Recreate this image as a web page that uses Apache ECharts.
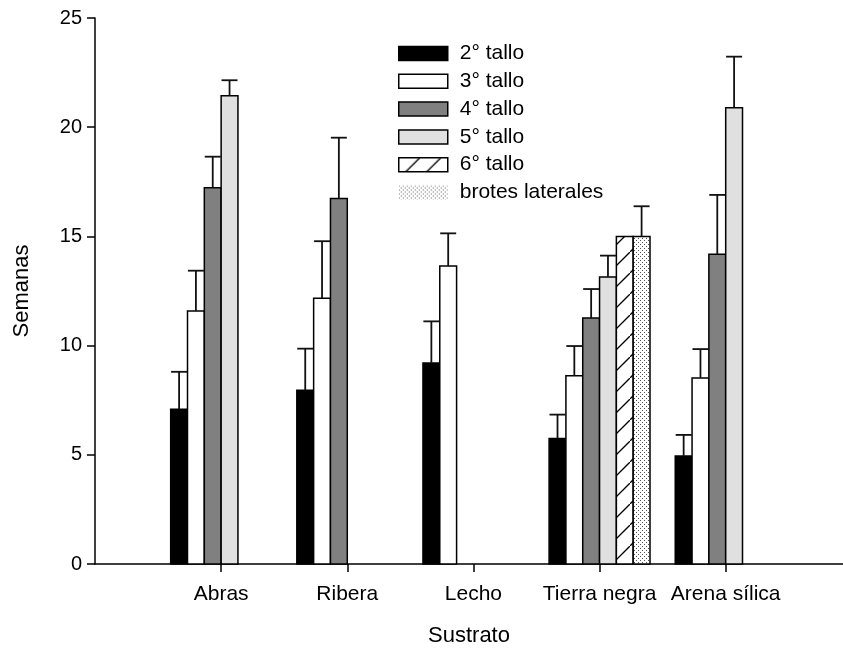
<!DOCTYPE html>
<html>
<head>
<meta charset="utf-8">
<script src="https://cdn.jsdelivr.net/npm/echarts@6/dist/echarts.min.js"></script>
<style>html,body{margin:0;padding:0;background:#fff}#c{width:843px;height:648px}</style>
</head>
<body>
<div id="c"></div>
<script>
// ---- data ----
const categories = ['Abras', 'Ribera', 'Lecho', 'Tierra negra', 'Arena sílica'];
const seriesNames = ['2° tallo', '3° tallo', '4° tallo', '5° tallo', '6° tallo', 'brotes laterales'];
const tallo2 = [7.08, 7.95, 9.20, 5.75, 4.95];
const tallo2Err = [1.72, 1.91, 1.91, 1.09, 0.96];
const tallo3 = [11.58, 12.17, 13.64, 8.62, 8.52];
const tallo3Err = [1.85, 2.61, 1.50, 1.36, 1.32];
const tallo4 = [17.23, 16.74, null, 11.26, 14.18];
const tallo4Err = [1.42, 2.78, null, 1.33, 2.72];
const tallo5 = [21.44, null, null, 13.14, 20.89];
const tallo5Err = [0.71, null, null, 0.98, 2.34];
const tallo6 = [null, null, null, 15.0, null];
const tallo6Err = [null, null, null, null, null];
const brotes = [null, null, null, 15.0, null];
const brotesErr = [null, null, null, 1.38, null];
const yTicks = [0, 5, 10, 15, 20, 25];

const seriesValues = [tallo2, tallo3, tallo4, tallo5, tallo6, brotes];
const seriesErrors = [tallo2Err, tallo3Err, tallo4Err, tallo5Err, tallo6Err, brotesErr];

// ---- patterns ----
function hatchPattern() {
  const c = document.createElement('canvas');
  c.width = 21; c.height = 21;
  const g = c.getContext('2d');
  g.fillStyle = '#fff'; g.fillRect(0, 0, 21, 21);
  g.strokeStyle = '#000'; g.lineWidth = 1.3;
  g.beginPath();
  g.moveTo(-2, 23); g.lineTo(23, -2);
  g.stroke();
  return c;
}
function dotPattern() {
  const c = document.createElement('canvas');
  c.width = 4; c.height = 4;
  const g = c.getContext('2d');
  g.fillStyle = '#fff'; g.fillRect(0, 0, 4, 4);
  g.fillStyle = '#555';
  g.fillRect(0, 0, 1, 1);
  g.fillRect(2, 2, 1, 1);
  return c;
}
const fills = ['#000000', '#ffffff', '#808080', '#e0e0e0',
  { image: hatchPattern(), repeat: 'repeat' },
  { image: dotPattern(), repeat: 'repeat' }];

const FONT = '"Liberation Sans", Arial, sans-serif';
const nSlots = 6;

function makeSeries(k) {
  const data = [];
  seriesValues[k].forEach(function (v, i) {
    if (v != null) data.push([i + 1, v, seriesErrors[k][i] == null ? 0 : seriesErrors[k][i]]);
  });
  return {
    type: 'custom',
    name: seriesNames[k],
    itemStyle: { color: fills[k], borderColor: '#000', borderWidth: 1.5 },
    data: data,
    encode: { x: 0, y: 1 },
    renderItem: function (params, api) {
      const xv = api.value(0), yv = api.value(1), ev = api.value(2);
      const base = api.coord([xv, 0]);
      const top = api.coord([xv, yv]);
      const unit = api.size([1, 0])[0];
      const bw = unit * 0.8 / nSlots;
      const cx = base[0] + (k - (nSlots - 1) / 2) * bw;
      const children = [{
        type: 'rect',
        shape: { x: cx - bw / 2, y: top[1], width: bw, height: base[1] - top[1] },
        style: { fill: fills[k], stroke: '#000', lineWidth: 1.5 }
      }];
      if (ev > 0) {
        const cap = api.coord([xv, yv + ev]);
        const cw = bw * 0.95;
        children.push({
          type: 'line',
          shape: { x1: cx, y1: top[1], x2: cx, y2: cap[1] },
          style: { stroke: '#111', lineWidth: 1.8 }
        });
        children.push({
          type: 'line',
          shape: { x1: cx - cw / 2, y1: cap[1], x2: cx + cw / 2, y2: cap[1] },
          style: { stroke: '#111', lineWidth: 1.8 }
        });
      }
      return { type: 'group', children: children };
    }
  };
}

const chart = echarts.init(document.getElementById('c'), null, { renderer: 'canvas' });
chart.setOption({
  animation: false,
  backgroundColor: '#fff',
  grid: { left: 95, right: 0, top: 18, bottom: 84, containLabel: false, outerBoundsMode: 'none' },
  legend: {
    orient: 'vertical',
    left: 393, top: 38,
    icon: 'rect',
    itemWidth: 49, itemHeight: 14, itemGap: 6.8,
    itemStyle: { borderColor: '#000', borderWidth: 1.5 },
    textStyle: { fontFamily: FONT, fontSize: 21, color: '#000', lineHeight: 20, padding: [0, 0, 0, 7] },
    data: seriesNames.map(function (n, i) {
      return i === 5 ? { name: n, itemStyle: { borderWidth: 0 } } : { name: n };
    }),
    selectedMode: false
  },
  xAxis: {
    type: 'value',
    min: 0, max: 5.93,
    name: 'Sustrato', nameLocation: 'middle', nameGap: 61,
    nameTextStyle: { fontFamily: FONT, fontSize: 22, color: '#000' },
    splitLine: { show: false },
    axisLine: { show: true, lineStyle: { color: '#000', width: 1.5 } },
    axisTick: { show: true, length: 8, lineStyle: { color: '#000', width: 1.5 }, customValues: [1, 2, 3, 4, 5] },
    axisLabel: {
      customValues: [1, 2, 3, 4, 5],
      formatter: function (v) { return categories[Math.round(v) - 1] || ''; },
      fontFamily: FONT, fontSize: 21, color: '#000', margin: 20
    }
  },
  yAxis: {
    type: 'value',
    min: yTicks[0], max: yTicks[yTicks.length - 1], interval: 5,
    name: 'Semanas', nameLocation: 'middle', nameGap: 62,
    nameTextStyle: { fontFamily: FONT, fontSize: 22, color: '#000' },
    splitLine: { show: false },
    axisLine: { show: true, lineStyle: { color: '#000', width: 1.5 } },
    axisTick: { show: true, length: 8, lineStyle: { color: '#000', width: 1.5 } },
    axisLabel: { fontFamily: FONT, fontSize: 20, color: '#000', margin: 13 }
  },
  series: seriesNames.map(function (n, k) { return makeSeries(k); })
});
</script>
</body>
</html>
